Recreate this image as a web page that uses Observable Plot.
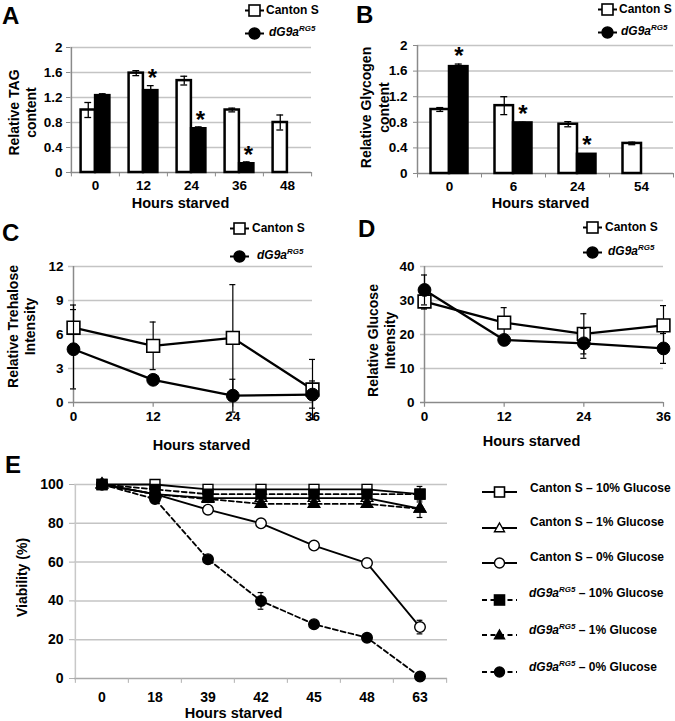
<!DOCTYPE html>
<html><head><meta charset="utf-8">
<script src="https://cdn.jsdelivr.net/npm/d3@7"></script>
<script src="https://cdn.jsdelivr.net/npm/@observablehq/plot@0.6"></script>
<style>
body{margin:0;background:#fff;}
#fig{position:relative;width:675px;height:721px;overflow:hidden;background:#fff;font-family:'Liberation Sans',Arial,Helvetica,sans-serif;font-weight:bold;color:#000;}
.lbl{position:absolute;white-space:nowrap;line-height:14px;font-size:12px;}
.letter{position:absolute;font-size:24px;line-height:24px;}
.sym{position:absolute;line-height:0;}
.lbl sup{font-size:8px;line-height:0;vertical-align:baseline;position:relative;top:-5px;}
</style></head>
<body><div id="fig"></div>
<script>
// ---------- Panel A: TAG ----------
const hoursA = ["0","12","24","36","48"];
const tagCanton = [1.0, 1.59, 1.47, 1.0, 0.8];
const tagCantonErr = [0.12, 0.04, 0.07, 0.03, 0.12];
const tagMutant = [1.23, 1.31, 0.70, 0.14, null];
const tagMutantErr = [0.03, 0.08, 0.03, 0.03, null];
const tagStars = [false, true, true, true, false];
const ticksA = [0, 0.4, 0.8, 1.2, 1.6, 2];

// ---------- Panel B: Glycogen ----------
const hoursB = ["0","6","24","54"];
const glyCanton = [1.0, 1.06, 0.77, 0.47];
const glyCantonErr = [0.03, 0.14, 0.04, 0.02];
const glyMutant = [1.67, 0.79, 0.30, null];
const glyMutantErr = [0.04, 0.01, 0.01, null];
const glyStars = [true, true, true, false];
const ticksB = [0, 0.4, 0.8, 1.2, 1.6, 2];

// ---------- Panel C: Trehalose ----------
const hoursC = [0, 12, 24, 36];
const trehCanton = [6.6, 5.0, 5.7, 1.15];
const trehCantonErr = [2.0, 2.1, 4.7, 2.65];
const trehMutant = [4.7, 2.0, 0.6, 0.7];
const trehMutantErr = [3.5, 0.3, 1.45, 1.2];
const ticksC = [0, 3, 6, 9, 12];

// ---------- Panel D: Glucose ----------
const hoursD = [0, 12, 24, 36];
const glucCanton = [29.7, 23.5, 20.2, 22.7];
const glucCantonErr = [2.2, 4.4, 5.9, 5.8];
const glucMutant = [33.1, 18.4, 17.4, 15.9];
const glucMutantErr = [4.4, 1.0, 4.4, 4.4];
const ticksD = [0, 10, 20, 30, 40];

// ---------- Panel E: Viability ----------
const hoursE = ["0","18","39","42","45","48","63"];
const cs10 = [100, 100, 97.5, 97.5, 97.5, 97.5, 95];
const cs1  = [100, 95, 93, 93, 93, 93, 87.5];
const cs0  = [100, 95, 87, 80, 68.5, 59.5, 26.5];
const dg10 = [100, 97.5, 95, 95, 95, 95, 95];
const dg1  = [100, 95, 92.5, 90, 90, 90, 87.5];
const dg0  = [100, 92.5, 61.5, 40, 28, 21, 1];
const cs10Err = [0,0,0,0,0,0,0];
const cs1Err  = [0,0,0,0,0,0,0];
const cs0Err  = [0,0,0,0,0,0,3.5];
const dg10Err = [0,0,0,0,0,0,4];
const dg1Err  = [0,0,0,0,0,0,4.5];
const dg0Err  = [0,0,0,4.3,0,0,0];
const ticksE = [0, 20, 40, 60, 80, 100];

// ================= drawing =================
const FONT = "'Liberation Sans', Arial, Helvetica, sans-serif";
const W = 675, H = 721;
const GRID = "#c4c4c4", AXIS = "#8a8a8a";
const fig = document.getElementById("fig");

function addPlot(opts) {
  const svg = Plot.plot({
    width: W, height: H,
    style: {background: "none", fontFamily: FONT, fontSize: "13.5px", fontWeight: "bold",
      color: "black", position: "absolute", left: "0px", top: "0px", maxWidth: "none", overflow: "visible"},
    ...opts
  });
  fig.appendChild(svg);
}

function barPanel({hours, canton, cantonErr, mutant, mutantErr, stars, ticks, x0, x1, y0, y1, barW,
                   ytitle, ytDx, ytDy, xtDx, xtDy, labPad, yPad, starDx, starDy}) {
  const bw = (x1 - x0) / hours.length;
  const rows = hours.map((h, i) => ({h, c: canton[i], ce: cantonErr[i], m: mutant[i], me: mutantErr[i], star: stars[i]}));
  const mut = rows.filter(d => d.m != null);
  const ymax = ticks[ticks.length - 1];
  const tickLen = ymax * 0.035;
  addPlot({
    marginLeft: x0, marginRight: W - x1, marginTop: y1, marginBottom: H - y0,
    x: {type: "band", domain: hours, padding: 0},
    y: {domain: [0, ymax]},
    marks: [
      Plot.gridY({ticks: ticks.slice(1), stroke: GRID, strokeOpacity: 1, strokeWidth: 1.5}),
      Plot.ruleY([0], {y: d => d, stroke: AXIS, strokeWidth: 1.5}),
      Plot.ruleX([hours[0]], {x: d => d, dx: -bw / 2, y1: d => 0, y2: d => ymax, stroke: AXIS, strokeWidth: 1.5}),
      Plot.ruleX(hours, {x: d => d, dx: -bw / 2, y1: d => 0, y2: d => -tickLen, stroke: AXIS}),
      Plot.ruleX([hours[hours.length - 1]], {x: d => d, dx: bw / 2, y1: d => 0, y2: d => -tickLen, stroke: AXIS}),
      Plot.axisY({ticks, tickSize: 4, tickPadding: yPad, stroke: AXIS, label: null, tickFormat: d => String(d)}),
      Plot.axisX({tickSize: 0, tickPadding: labPad, label: null}),
      Plot.barY(rows, {x: "h", y: "c", fill: "white", stroke: "black", strokeWidth: 2.5,
        insetLeft: bw / 2 - barW, insetRight: bw / 2}),
      Plot.barY(mut, {x: "h", y: "m", fill: "black", stroke: "black", strokeWidth: 2.5,
        insetLeft: bw / 2, insetRight: bw / 2 - barW}),
      Plot.ruleX(rows, {x: "h", y1: d => d.c - d.ce, y2: d => d.c + d.ce, dx: -barW / 2, stroke: "black", strokeWidth: 1.3}),
      Plot.tickY(rows, {x: "h", y: d => d.c + d.ce, dx: -barW / 2, insetLeft: bw / 2 - 3.5, insetRight: bw / 2 - 3.5, strokeWidth: 1.3}),
      Plot.tickY(rows, {x: "h", y: d => d.c - d.ce, dx: -barW / 2, insetLeft: bw / 2 - 3.5, insetRight: bw / 2 - 3.5, strokeWidth: 1.3}),
      Plot.ruleX(mut, {x: "h", y1: d => d.m - d.me, y2: d => d.m + d.me, dx: barW / 2, stroke: "black", strokeWidth: 1.3}),
      Plot.tickY(mut, {x: "h", y: d => d.m + d.me, dx: barW / 2, insetLeft: bw / 2 - 3.5, insetRight: bw / 2 - 3.5, strokeWidth: 1.3}),
      Plot.text(mut.filter(d => d.star), {x: "h", y: d => d.m + d.me, text: d => "*", dx: starDx, dy: starDy, fontSize: 24}),
      Plot.text([ytitle], {text: d => d, frameAnchor: "left", textAnchor: "middle", lineAnchor: "middle",
        rotate: -90, dx: ytDx, dy: ytDy, fontSize: 14, lineHeight: 1.22}),
      Plot.text(["Hours starved"], {text: d => d, frameAnchor: "bottom", textAnchor: "middle", lineAnchor: "middle",
        dx: xtDx, dy: xtDy, fontSize: 14.5})
    ]
  });
}

function linePanel({hours, canton, cantonErr, mutant, mutantErr, ticks, x0, x1, y0, y1, gridExt,
                    ytitle, ytDx, ytDy, xtDx, xtDy, labPad, yPad}) {
  const xmax = hours[hours.length - 1];
  const ymax = ticks[ticks.length - 1];
  const ext = gridExt * xmax / (x1 - x0);
  const tickLen = ymax * 0.035;
  const rc = hours.map((h, i) => ({h, v: canton[i], e: cantonErr[i]}));
  const rm = hours.map((h, i) => ({h, v: mutant[i], e: mutantErr[i]}));
  const err = (rows) => [
    Plot.ruleX(rows, {x: "h", y1: d => d.v - d.e, y2: d => d.v + d.e, stroke: "black", strokeWidth: 1.2}),
    Plot.ruleY(rows, {y: d => d.v + d.e, x1: "h", x2: "h", insetLeft: -3, insetRight: -3, stroke: "black", strokeWidth: 1.2}),
    Plot.ruleY(rows, {y: d => d.v - d.e, x1: "h", x2: "h", insetLeft: -3, insetRight: -3, stroke: "black", strokeWidth: 1.2})
  ];
  addPlot({
    marginLeft: x0, marginRight: W - x1, marginTop: y1, marginBottom: H - y0,
    x: {domain: [0, xmax]},
    y: {domain: [0, ymax]},
    marks: [
      Plot.ruleY(ticks.slice(1), {y: d => d, x1: d => -ext, x2: d => xmax, stroke: GRID, strokeWidth: 1.5}),
      Plot.ruleY([0], {y: d => d, x1: d => -ext, x2: d => xmax, stroke: AXIS, strokeWidth: 1.5}),
      Plot.ruleX([0], {x: d => d, y1: d => 0, y2: d => ymax, stroke: AXIS, strokeWidth: 1.5}),
      Plot.ruleX(hours, {x: d => d, y1: d => 0, y2: d => -tickLen, stroke: AXIS, strokeWidth: 1.2}),
      Plot.axisY({ticks, tickSize: 0, tickPadding: yPad, label: null, tickFormat: d => String(d)}),
      Plot.axisX({ticks: hours, tickSize: 0, tickPadding: labPad, label: null, tickFormat: d => String(d)}),
      Plot.line(rc, {x: "h", y: "v", stroke: "black", strokeWidth: 2.3}),
      ...err(rc),
      Plot.dot(rc, {x: "h", y: "v", symbol: "square", r: 7.2, fill: "white", stroke: "black", strokeWidth: 1.6}),
      Plot.line(rm, {x: "h", y: "v", stroke: "black", strokeWidth: 2.3}),
      ...err(rm),
      Plot.dot(rm, {x: "h", y: "v", symbol: "circle", r: 6.4, fill: "black", stroke: "black", strokeWidth: 1}),
      Plot.text([ytitle], {text: d => d, frameAnchor: "left", textAnchor: "middle", lineAnchor: "middle",
        rotate: -90, dx: ytDx, dy: ytDy, fontSize: 14, lineHeight: 1.22}),
      Plot.text(["Hours starved"], {text: d => d, frameAnchor: "bottom", textAnchor: "middle", lineAnchor: "middle",
        dx: xtDx, dy: xtDy, fontSize: 14.5})
    ]
  });
}

// Panel A
barPanel({hours: hoursA, canton: tagCanton, cantonErr: tagCantonErr, mutant: tagMutant, mutantErr: tagMutantErr,
  stars: tagStars, ticks: ticksA, x0: 70, x1: 311, y0: 172, y1: 47, barW: 14.5,
  ytitle: "Relative TAG\ncontent", ytDx: -48.5, ytDy: 2.5, xtDx: -10.5, xtDy: 31, labPad: 8, yPad: 4,
  starDx: 9, starDy: -7});
// Panel B
barPanel({hours: hoursB, canton: glyCanton, cantonErr: glyCantonErr, mutant: glyMutant, mutantErr: glyMutantErr,
  stars: glyStars, ticks: ticksB, x0: 417, x1: 673, y0: 173, y1: 45, barW: 18.5,
  ytitle: "Relative Glycogen\ncontent", ytDx: -43, ytDy: -2, xtDx: -5, xtDy: 30, labPad: 8, yPad: 6,
  starDx: 9.5, starDy: -8});
// Panel C
linePanel({hours: hoursC, canton: trehCanton, cantonErr: trehCantonErr, mutant: trehMutant, mutantErr: trehMutantErr,
  ticks: ticksC, x0: 73, x1: 312, y0: 402, y1: 266, gridExt: 5,
  ytitle: "Relative Trehalose\nIntensity", ytDx: -52.5, ytDy: -8, xtDx: 8.5, xtDy: 43, labPad: 9, yPad: 10});
// Panel D
linePanel({hours: hoursD, canton: glucCanton, cantonErr: glucCantonErr, mutant: glucMutant, mutantErr: glucMutantErr,
  ticks: ticksD, x0: 424, x1: 663, y0: 402, y1: 266, gridExt: 4,
  ytitle: "Relative Glucose\nIntensity", ytDx: -43.5, ytDy: 6, xtDx: -12.5, xtDy: 39, labPad: 9, yPad: 10});

// Panel E
(function () {
  const x0 = 74, x1 = 447, y0 = 678, y1 = 484;
  const bw = (x1 - x0) / hoursE.length;
  const defs = [
    {v: cs10, e: cs10Err, symbol: "square", fill: "white", dash: null, r: 5.6},
    {v: cs1,  e: cs1Err,  symbol: "triangle", fill: "white", dash: null, r: 4.3},
    {v: cs0,  e: cs0Err,  symbol: "circle", fill: "white", dash: null, r: 5.3},
    {v: dg1,  e: dg1Err,  symbol: "triangle", fill: "black", dash: "5,3", r: 4.3},
    {v: dg0,  e: dg0Err,  symbol: "circle", fill: "black", dash: "5,3", r: 5.3},
    {v: dg10, e: dg10Err, symbol: "square", fill: "black", dash: "5,3", r: 5.6}
  ];
  const marks = [
    Plot.gridY({ticks: ticksE.slice(1), stroke: GRID, strokeOpacity: 1, strokeWidth: 1.5}),
    Plot.ruleY([0], {y: d => d, stroke: "#a8a8a8", strokeWidth: 1.5}),
    Plot.ruleX([hoursE[0]], {x: d => d, dx: -bw / 2, y1: d => 0, y2: d => 100, stroke: "#c8c8c8", strokeWidth: 1.5}),
    Plot.ruleX(hoursE, {x: d => d, dx: -bw / 2, y1: d => 0, y2: d => -2.5, stroke: "#b0b0b0"}),
    Plot.ruleX([hoursE[hoursE.length - 1]], {x: d => d, dx: bw / 2, y1: d => 0, y2: d => -2.5, stroke: "#b0b0b0"}),
    Plot.axisY({ticks: ticksE, tickSize: 5, tickPadding: 6, stroke: "#b0b0b0", label: null, fontSize: 14, tickFormat: d => String(d)}),
    Plot.axisX({tickSize: 0, tickPadding: 14, label: null, fontSize: 14}),
    Plot.text(["Viability (%)"], {text: d => d, frameAnchor: "left", textAnchor: "middle", lineAnchor: "middle",
      rotate: -90, dx: -52, dy: -4, fontSize: 14}),
    Plot.text(["Hours starved"], {text: d => d, frameAnchor: "bottom", textAnchor: "middle", lineAnchor: "middle",
      dx: -27.5, dy: 35, fontSize: 14.5})
  ];
  for (const s of defs) {
    const rows = hoursE.map((h, i) => ({h, v: s.v[i], e: s.e[i]}));
    const er = rows.filter(d => d.e > 0);
    marks.push(
      Plot.line(rows, {x: "h", y: "v", stroke: "black", strokeWidth: 1.8, strokeDasharray: s.dash}),
      Plot.ruleX(er, {x: "h", y1: d => d.v - d.e, y2: d => d.v + d.e, stroke: "black", strokeWidth: 1.2}),
      Plot.tickY(er, {x: "h", y: d => d.v + d.e, insetLeft: bw / 2 - 3, insetRight: bw / 2 - 3, strokeWidth: 1.2}),
      Plot.tickY(er, {x: "h", y: d => d.v - d.e, insetLeft: bw / 2 - 3, insetRight: bw / 2 - 3, strokeWidth: 1.2}),
      Plot.dot(rows, {x: "h", y: "v", symbol: s.symbol, r: s.r, fill: s.fill, stroke: "black", strokeWidth: 1.4})
    );
  }
  addPlot({
    marginLeft: x0, marginRight: W - x1, marginTop: y1, marginBottom: H - y0,
    x: {type: "band", domain: hoursE, padding: 0},
    y: {domain: [0, 100]},
    marks
  });
})();

// ---------- letters & legends (HTML) ----------
function letter(ch, left, top) {
  const d = document.createElement("div");
  d.className = "letter"; d.style.left = left + "px"; d.style.top = top + "px"; d.textContent = ch;
  fig.appendChild(d);
}
function symSVG(shape, fill, dashed, len, size) {
  const h = size + 6, cy = h / 2, cx = len / 2, s = size / 2;
  let m;
  if (shape === "square") m = `<rect x="${cx - s}" y="${cy - s}" width="${size}" height="${size}" fill="${fill}" stroke="black" stroke-width="1.6"/>`;
  else if (shape === "circle") m = `<circle cx="${cx}" cy="${cy}" r="${s}" fill="${fill}" stroke="black" stroke-width="1.4"/>`;
  else m = `<path d="M${cx},${cy - s}L${cx + s},${cy + s * 0.75}L${cx - s},${cy + s * 0.75}Z" fill="${fill}" stroke="black" stroke-width="1.4"/>`;
  return `<svg xmlns="http://www.w3.org/2000/svg" width="${len}" height="${h}"><line x1="0" y1="${cy}" x2="${len}" y2="${cy}" stroke="black" stroke-width="2"${dashed ? ' stroke-dasharray="5,3.5"' : ''}/>${m}</svg>`;
}
function legendItem(mx, my, len, shape, fill, dashed, size, tx, ty, html) {
  const d = document.createElement("div");
  d.className = "sym"; d.style.left = (mx - len / 2) + "px"; d.style.top = (my - (size + 6) / 2) + "px";
  d.innerHTML = symSVG(shape, fill, dashed, len, size);
  fig.appendChild(d);
  const t = document.createElement("div");
  t.className = "lbl"; t.style.left = tx + "px"; t.style.top = (ty - 7) + "px"; t.innerHTML = html;
  fig.appendChild(t);
}
const CS = "Canton S";
const MUT = "<i>dG9a<sup>RG5</sup></i>";

letter("A", 2, 4); letter("B", 356, 3); letter("C", 2, 221); letter("D", 358, 217); letter("E", 5, 453);

legendItem(254, 10, 19, "square", "white", false, 11, 266, 10, CS);
legendItem(254, 33, 19, "circle", "black", false, 11, 269, 32, MUT);
legendItem(607, 9, 19, "square", "white", false, 11, 619, 9, CS);
legendItem(607, 32, 19, "circle", "black", false, 11, 621, 31, MUT);
legendItem(239, 228, 19, "square", "white", false, 11, 252, 228, CS);
legendItem(239, 256, 19, "circle", "black", false, 11, 257, 255, MUT);
legendItem(592, 227, 19, "square", "white", false, 11, 605, 227, CS);
legendItem(592, 252, 19, "circle", "black", false, 11, 608, 251, MUT);

const legE = [
  {shape: "square", fill: "white", dashed: false, html: "Canton S – 10% Glucose"},
  {shape: "triangle", fill: "white", dashed: false, html: "Canton S – 1% Glucose"},
  {shape: "circle", fill: "white", dashed: false, html: "Canton S – 0% Glucose"},
  {shape: "square", fill: "black", dashed: true, html: MUT + " – 10% Glucose"},
  {shape: "triangle", fill: "black", dashed: true, html: MUT + " – 1% Glucose"},
  {shape: "circle", fill: "black", dashed: true, html: MUT + " – 0% Glucose"}
];
const legEMarkY = [492, 528, 563, 600, 635, 672];
const legETextY = [488, 522, 557, 593, 630, 667];
legE.forEach((d, i) => legendItem(499.5, legEMarkY[i], 35, d.shape, d.fill, d.dashed, 10, i < 3 ? 530 : 529, legETextY[i], d.html));
</script></body></html>
